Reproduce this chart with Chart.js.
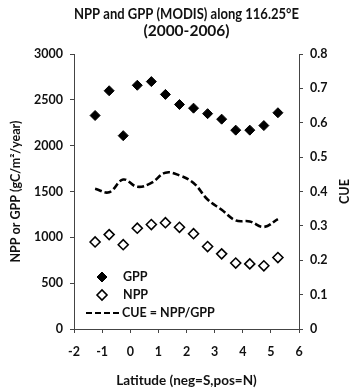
<!DOCTYPE html>
<html>
<head>
<meta charset="utf-8">
<script src="https://cdn.jsdelivr.net/npm/chart.js@4.4.1/dist/chart.umd.min.js"></script>
<style>
  html, body { margin: 0; padding: 0; background: #fff; }
</style>
</head>
<body>
<canvas id="chart" width="354" height="391"></canvas>
<script>
// Latitude of each sample (degrees, neg = S)
const latitudes = [-1.25, -0.75, -0.25, 0.25, 0.75, 1.25, 1.75, 2.25, 2.75, 3.25, 3.75, 4.25, 4.75, 5.25];
// GPP and NPP in gC/m2/year
const gpp = [2330, 2600, 2110, 2660, 2700, 2560, 2450, 2410, 2350, 2290, 2170, 2170, 2220, 2360];
const npp = [950, 1030, 920, 1100, 1140, 1160, 1110, 1040, 900, 820, 720, 710, 690, 780];
// CUE
const cue = [0.408, 0.398, 0.435, 0.414, 0.425, 0.455, 0.447, 0.425, 0.377, 0.347, 0.316, 0.313, 0.297, 0.320];

const FONT = 'Lato, "Open Sans", sans-serif';
const INK = '#111';

const toPoints = (ys) => latitudes.map((x, i) => ({ x: x, y: ys[i] }));

// legend drawn inside the plot, lower left, plus the right axis title (reads bottom to top)
const extras = {
  id: 'extras',
  afterDraw(chart) {
    const ctx = chart.ctx;
    const a = chart.chartArea;
    ctx.save();
    ctx.fillStyle = INK;
    ctx.strokeStyle = '#000';
    ctx.font = 'bold 12.5px ' + FONT;
    ctx.textBaseline = 'middle';
    ctx.textAlign = 'left';

    const lx = a.left + 28;
    const y1 = a.bottom - 52, y2 = a.bottom - 34, y3 = a.bottom - 16;
    ctx.fillStyle = '#000';
    Chart.helpers.drawPoint(ctx, { pointStyle: 'rectRot', radius: 5, borderWidth: 1 }, lx, y1);
    ctx.fill();
    ctx.fillStyle = '#fff';
    ctx.lineWidth = 1.6;
    Chart.helpers.drawPoint(ctx, { pointStyle: 'rectRot', radius: 5, borderWidth: 1.6 }, lx, y2);
    ctx.fillStyle = INK;
    ctx.fillText('GPP', a.left + 49, y1);
    ctx.fillText('NPP', a.left + 49, y2);

    ctx.beginPath();
    ctx.setLineDash([6, 3]);
    ctx.lineWidth = 2.2;
    ctx.moveTo(a.left + 12, y3);
    ctx.lineTo(a.left + 46, y3);
    ctx.stroke();
    ctx.setLineDash([]);
    ctx.fillText('CUE = NPP/GPP', a.left + 48, y3);

    ctx.translate(345, (a.top + a.bottom) / 2);
    ctx.rotate(-Math.PI / 2);
    ctx.textAlign = 'center';
    ctx.fillText('CUE', 0, 0);
    ctx.restore();
  }
};

new Chart(document.getElementById('chart'), {
  type: 'scatter',
  data: {
    datasets: [
      {
        label: 'GPP',
        data: toPoints(gpp),
        pointStyle: 'rectRot',
        pointRadius: 5,
        backgroundColor: '#000',
        borderColor: '#000',
        borderWidth: 1,
        yAxisID: 'y'
      },
      {
        label: 'NPP',
        data: toPoints(npp),
        pointStyle: 'rectRot',
        pointRadius: 5,
        backgroundColor: '#fff',
        borderColor: '#000',
        borderWidth: 1.6,
        yAxisID: 'y'
      },
      {
        type: 'line',
        label: 'CUE = NPP/GPP',
        data: toPoints(cue),
        showLine: true,
        borderColor: '#000',
        borderWidth: 2.6,
        borderDash: [7, 3],
        tension: 0.4,
        pointRadius: 0,
        fill: false,
        yAxisID: 'y2'
      }
    ]
  },
  options: {
    responsive: false,
    animation: false,
    layout: { padding: 0 },
    plugins: {
      legend: { display: false },
      tooltip: { enabled: false },
      title: {
        display: true,
        fullSize: false,
        text: ['NPP and GPP (MODIS) along 116.25°E', '(2000-2006)'],
        color: INK,
        font: { family: FONT, size: 15.5, weight: 'bold', lineHeight: 1.1 },
        padding: { top: 5.5, bottom: 14.5 }
      }
    },
    scales: {
      x: {
        type: 'linear',
        position: 'bottom',
        min: -2,
        max: 6,
        ticks: { stepSize: 1, color: INK, padding: 11, font: { family: FONT, size: 12.5, weight: 'bold' } },
        grid: { drawOnChartArea: false, drawTicks: true, tickLength: 4, color: '#444' },
        border: { color: '#444', width: 1 },
        title: {
          display: true,
          text: 'Latitude (neg=S,pos=N)',
          color: INK,
          font: { family: FONT, size: 13.5, weight: 'bold' },
          padding: { top: 4, bottom: 2 }
        },
        afterFit(s) { s.height = 62; }
      },
      y: {
        position: 'left',
        min: 0,
        max: 3000,
        ticks: { stepSize: 500, color: INK, padding: 7, font: { family: FONT, size: 12.5, weight: 'bold' },
          callback: (v) => String(v) },
        grid: { drawOnChartArea: false, drawTicks: true, tickLength: 4, color: '#444' },
        border: { color: '#444', width: 1 },
        title: {
          display: true,
          text: 'NPP or GPP (gC/m²/year)',
          color: INK,
          font: { family: FONT, size: 12.5, weight: 'bold' },
          padding: { top: 8, bottom: 4 }
        },
        afterFit(s) { s.width = 74; }
      },
      y2: {
        position: 'right',
        min: 0,
        max: 0.8,
        ticks: { stepSize: 0.1, color: INK, padding: 7, font: { family: FONT, size: 12.5, weight: 'bold' },
          callback: (v) => (v === 0 ? '0' : v.toFixed(1)) },
        grid: { drawOnChartArea: false, drawTicks: true, tickLength: 4, color: '#444' },
        border: { color: '#444', width: 1 },
        afterFit(s) { s.width = 55; }
      }
    }
  },
  plugins: [extras]
});
</script>
</body>
</html>
